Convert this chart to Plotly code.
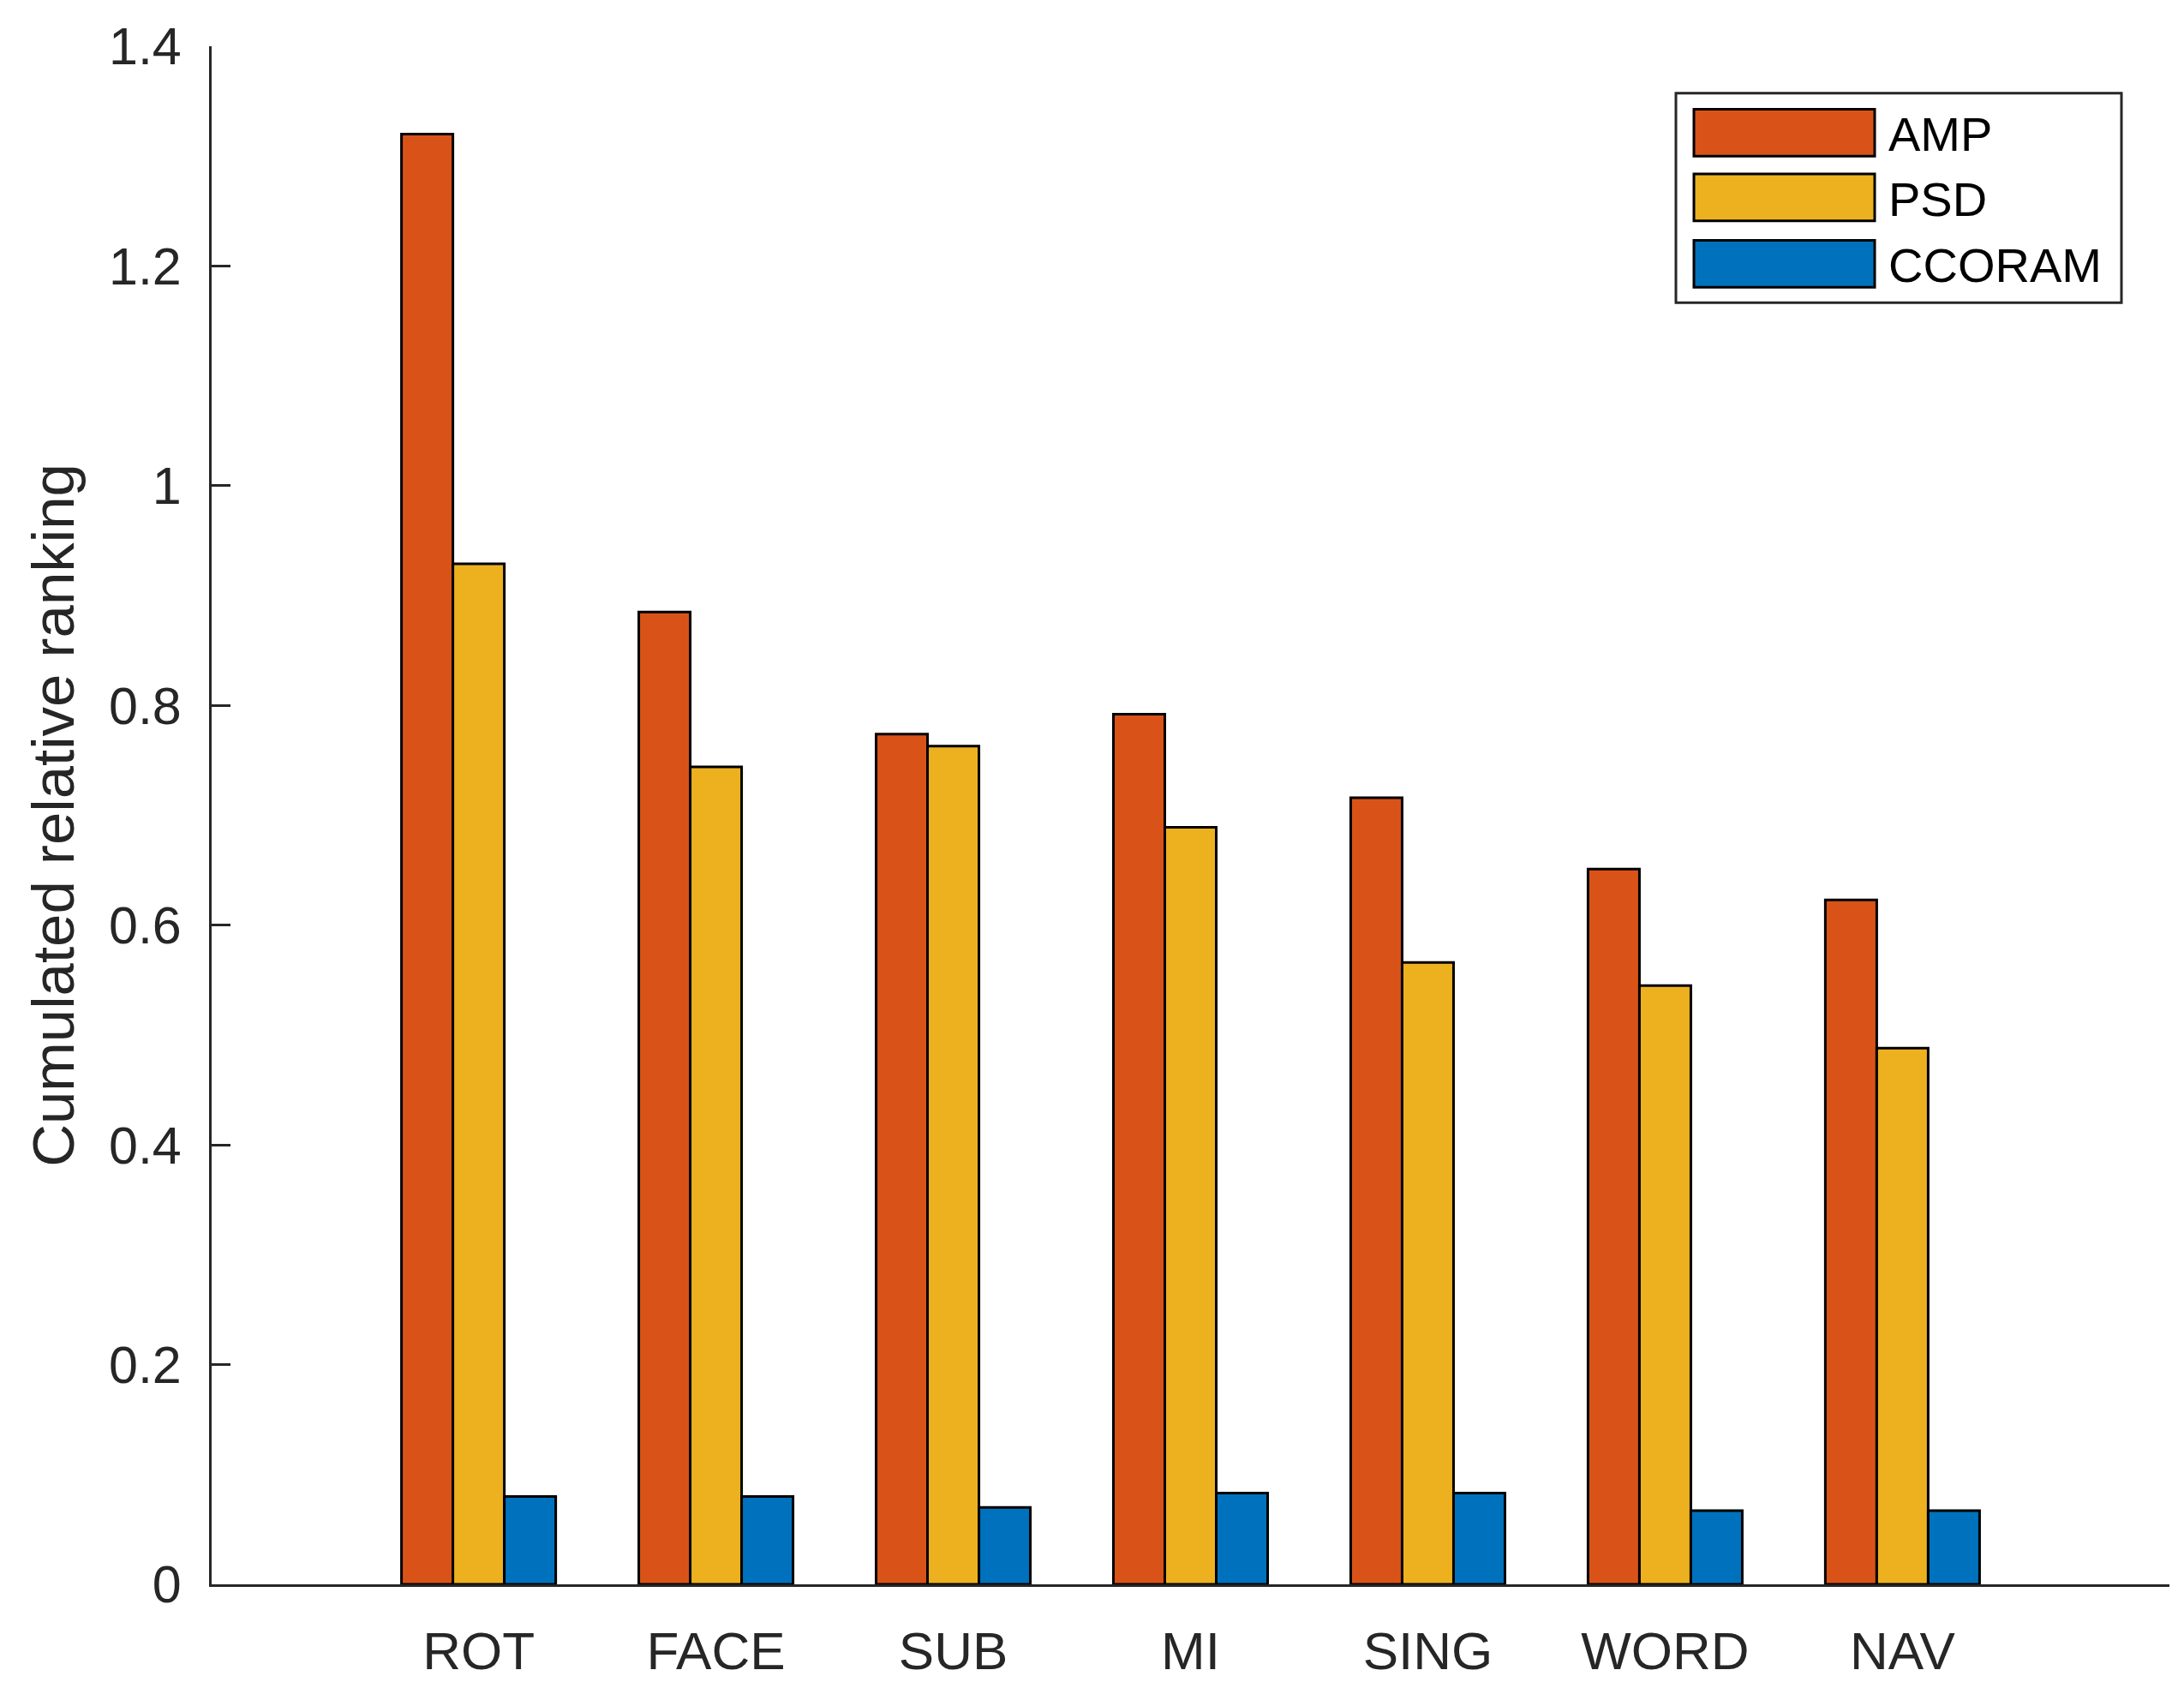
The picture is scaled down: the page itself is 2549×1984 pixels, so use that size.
import plotly.graph_objects as go

# ---------------- data ----------------
categories = ["ROT", "FACE", "SUB", "MI", "SING", "WORD", "NAV"]
amp = [1.320, 0.885, 0.774, 0.792, 0.716, 0.651, 0.623]
psd = [0.929, 0.744, 0.763, 0.689, 0.566, 0.545, 0.488]
ccoram = [0.080, 0.080, 0.070, 0.083, 0.083, 0.067, 0.067]
series_names = ["AMP", "PSD", "CCORAM"]
y_tick_values = [0, 0.2, 0.4, 0.6, 0.8, 1.0, 1.2, 1.4]
y_tick_labels = ["0", "0.2", "0.4", "0.6", "0.8", "1", "1.2", "1.4"]
y_title = "Cumulated relative ranking"

# ---------------- style ----------------
colors = ["#D95319", "#EDB120", "#0072BD"]
W, H = 2549, 1984
OFF = 8  # page body margin
ML, MR, MT, MB = 247 - OFF, 17 + OFF, 43 - OFF, 135 + OFF
FONT = "Liberation Sans, Arial, Helvetica, sans-serif"
TXT = "#262626"

x_pos = list(range(1, len(categories) + 1))

fig = go.Figure()
for name, vals, col in zip(series_names, [amp, psd, ccoram], colors):
    fig.add_trace(go.Bar(
        x=x_pos, y=vals, name=name,
        marker=dict(color=col, line=dict(color="black", width=3)),
        showlegend=False,
    ))

# custom legend (paper coords from page-pixel positions)
pw, ph = W - ML - MR, H - MT - MB


def px2x(px):
    return (px - OFF - ML) / pw


def px2y(py):
    return (H - MB - (py - OFF)) / ph


shapes = [dict(type="rect", xref="paper", yref="paper",
               x0=px2x(1956), x1=px2x(2476), y0=px2y(344), y1=px2y(98),
               line=dict(color=TXT, width=3), fillcolor="white", layer="above")]
annotations = []
rows = [(117, 172), (193, 248), (271, 326)]
for (t, b), name, col in zip(rows, series_names, colors):
    shapes.append(dict(type="rect", xref="paper", yref="paper",
                       x0=px2x(1977), x1=px2x(2188), y0=px2y(b), y1=px2y(t),
                       line=dict(color="black", width=3), fillcolor=col, layer="above"))
    annotations.append(dict(xref="paper", yref="paper", x=px2x(2202), y=px2y((t + b) / 2 + 2),
                            text=name, showarrow=False, xanchor="left", yanchor="middle",
                            font=dict(family=FONT, size=56, color="black")))

fig.update_layout(
    width=W, height=H,
    margin=dict(l=ML, r=MR, t=MT, b=MB, pad=0),
    paper_bgcolor="white", plot_bgcolor="white",
    barmode="group", bargap=0.35, bargroupgap=0,
    font=dict(family=FONT, color=TXT),
    shapes=shapes, annotations=annotations,
    showlegend=False,
)
fig.update_xaxes(
    range=[-0.125, 8.125], tickvals=x_pos, ticktext=categories,
    showline=True, linecolor=TXT, linewidth=3, ticks="",
    showgrid=False, zeroline=False,
    tickfont=dict(family=FONT, size=62, color=TXT),
    ticklabelstandoff=22,
)
fig.update_yaxes(
    range=[0, 1.40001], tickvals=y_tick_values, ticktext=y_tick_labels,
    showline=True, linecolor=TXT, linewidth=3,
    ticks="inside", ticklen=22, tickwidth=3, tickcolor=TXT,
    showgrid=False, zeroline=False,
    tickfont=dict(family=FONT, size=61, color=TXT),
    ticklabelstandoff=20,
    title=dict(text=y_title, font=dict(family=FONT, size=69, color=TXT), standoff=18),
)

fig.write_html("out.html")
